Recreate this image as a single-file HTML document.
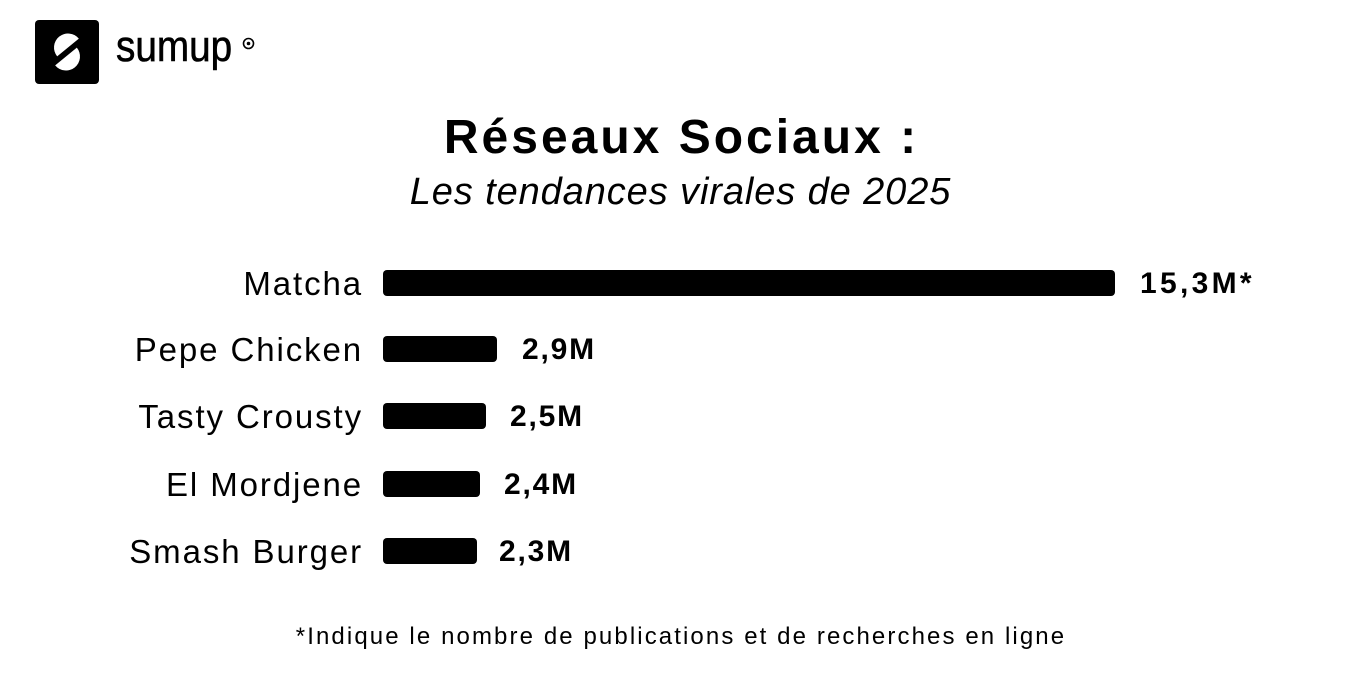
<!DOCTYPE html>
<html>
<head>
<meta charset="utf-8">
<style>
  html, body { margin:0; padding:0; background:#fff; }
  body { width:1368px; height:680px; position:relative; overflow:hidden; font-family:"Liberation Sans", Arial, sans-serif; color:#000; }
  .abs { position:absolute; white-space:nowrap; }
  .title { left:0; width:1363px; text-align:center; top:113.5px; font-size:48px; line-height:48px; font-weight:bold; letter-spacing:3px; }
  .sub { left:0; width:1361px; text-align:center; top:173px; font-size:38px; line-height:38px; font-style:italic; letter-spacing:0.9px; }
  .foot { left:0; width:1362px; text-align:center; top:625px; font-size:24px; line-height:24px; letter-spacing:2.1px; }
  .lbl { right:1005px; font-size:33px; line-height:33px; letter-spacing:1.9px; text-align:right; }
  .bar { position:absolute; left:383px; height:26px; background:#000; border-radius:4px; }
  .val { font-size:30px; line-height:30px; font-weight:bold; letter-spacing:1.8px; }
  .brand { left:116px; top:25px; font-size:44px; line-height:44px; letter-spacing:0px; -webkit-text-stroke:0.6px #000; transform:scaleX(0.88); transform-origin:0 0; }
</style>
</head>
<body>
  <!-- Logo -->
  <svg class="abs" style="left:35px;top:20px" width="64" height="64" viewBox="0 0 64 64">
    <rect x="0" y="0" width="64" height="64" rx="4" ry="4" fill="#000"/>
    <path d="M43.84 18.64 L22.16 36.36 A14 14 0 0 1 43.84 18.64 Z" fill="#fff"/>
    <path d="M20.16 45.36 L41.84 27.64 A14 14 0 0 1 20.16 45.36 Z" fill="#fff"/>
  </svg>
  <div class="abs brand">sumup</div>
  <svg class="abs" style="left:242px;top:37px" width="13" height="13" viewBox="0 0 13 13">
    <circle cx="6.5" cy="6.5" r="5" fill="none" stroke="#000" stroke-width="1.6"/>
    <circle cx="6.5" cy="6.5" r="1.8" fill="#000"/>
  </svg>

  <div class="abs title">Réseaux Sociaux :</div>
  <div class="abs sub">Les tendances virales de 2025</div>

  <!-- Labels -->
  <div class="abs lbl" style="top:266.5px">Matcha</div>
  <div class="abs lbl" style="top:332.5px">Pepe Chicken</div>
  <div class="abs lbl" style="top:399.5px">Tasty Crousty</div>
  <div class="abs lbl" style="top:467.5px">El Mordjene</div>
  <div class="abs lbl" style="top:534.5px">Smash Burger</div>

  <!-- Bars -->
  <div class="bar" style="top:270px;width:732px"></div>
  <div class="bar" style="top:336px;width:114px"></div>
  <div class="bar" style="top:403px;width:103px"></div>
  <div class="bar" style="top:471px;width:97px"></div>
  <div class="bar" style="top:538px;width:94px"></div>

  <!-- Values -->
  <div class="abs val" style="left:1140px;top:268.6px;letter-spacing:3.3px">15,3M*</div>
  <div class="abs val" style="left:522px;top:334.6px">2,9M</div>
  <div class="abs val" style="left:510px;top:401.6px">2,5M</div>
  <div class="abs val" style="left:504px;top:469.6px">2,4M</div>
  <div class="abs val" style="left:499px;top:536.6px">2,3M</div>

  <div class="abs foot">*Indique le nombre de publications et de recherches en ligne</div>
</body>
</html>
